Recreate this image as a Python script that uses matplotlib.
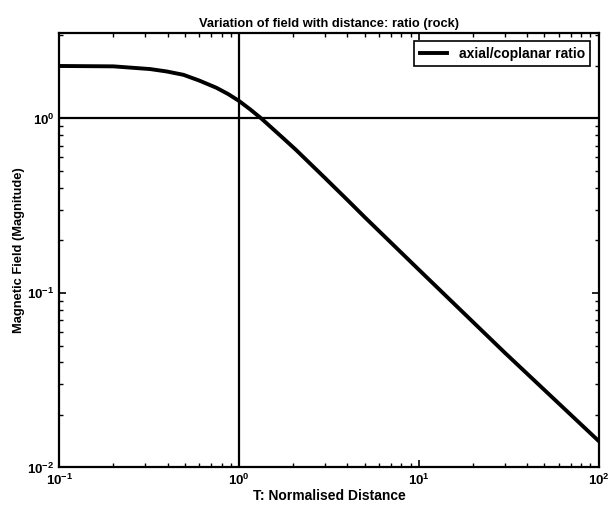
import matplotlib
matplotlib.use("Agg")
import matplotlib.pyplot as plt

plt.rcParams['font.family'] = ['Liberation Sans', 'DejaVu Sans']
plt.rcParams['font.weight'] = 'bold'
plt.rcParams['mathtext.default'] = 'regular'

# values
distance = [0.1, 0.2, 0.32, 0.396, 0.49, 0.6, 0.748, 0.87, 1.0, 1.15, 1.33,
            1.75, 2.07, 3.0, 4.08, 5.0, 10.0, 30.0, 100.0]
ratio = [2.0, 1.99, 1.92, 1.86, 1.78, 1.65, 1.50, 1.38, 1.26, 1.13, 1.0,
         0.775, 0.662, 0.457, 0.335, 0.272, 0.136, 0.0456, 0.0142]

fig = plt.figure(figsize=(6.12, 5.12), dpi=100)
ax = fig.add_axes([0.097, 0.087, 0.881, 0.849])

ax.axvline(1.0, color='black', lw=1.6)
ax.axhline(1.0, color='black', lw=1.6)
ax.loglog(distance, ratio, color='black', lw=2.8, label='axial/coplanar ratio',
          solid_joinstyle='round')

ax.set_xlim(0.1, 100)
ax.set_ylim(0.01, 3.1)

ax.tick_params(which='both', direction='in', top=True, right=True, labelsize=9.5)
ax.tick_params(which='major', length=5, width=1.2)
ax.tick_params(which='minor', length=3, width=1.0)
for s in ax.spines.values():
    s.set_linewidth(1.6)

ax.set_title('Variation of field with distance: ratio (rock)', fontsize=9.3,
             fontweight='bold', pad=4)
ax.set_xlabel('T: Normalised Distance', fontsize=10, fontweight='bold', labelpad=1)
ax.set_ylabel('Magnetic Field (Magnitude)', fontsize=9.3, fontweight='bold', labelpad=2)

leg = ax.legend(loc='upper right', fontsize=10, fancybox=False, framealpha=1,
                borderaxespad=0.6, handlelength=2.0)
leg.get_frame().set_edgecolor('black')
leg.get_frame().set_linewidth(1.2)

fig.savefig('out.png', dpi=100)
